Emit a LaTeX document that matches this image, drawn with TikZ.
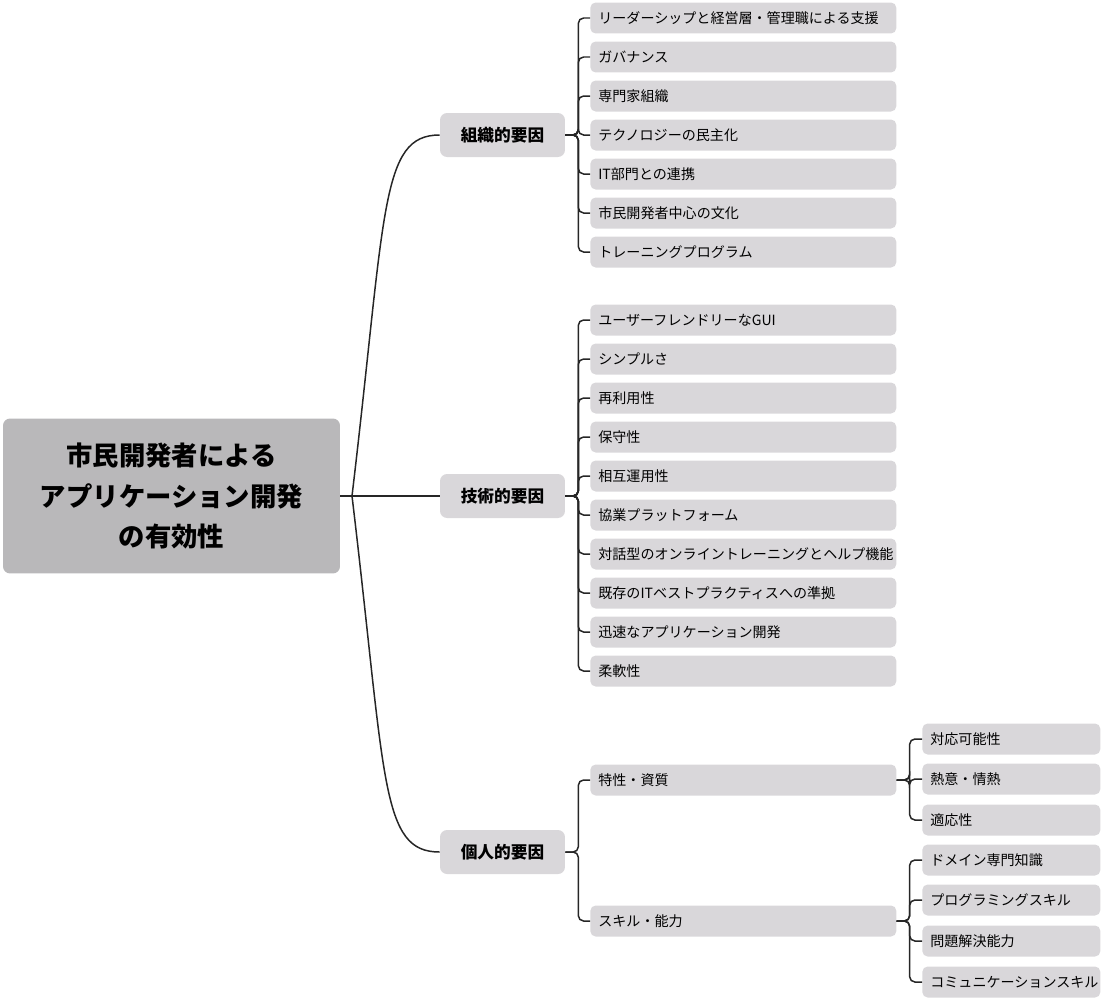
\documentclass[tikz,border=0pt]{standalone}
\usepackage{fontspec}
\setmainfont{Noto Sans CJK JP}
\usetikzlibrary{positioning}
\definecolor{rootgray}{HTML}{B9B8BA}
\definecolor{boxgray}{HTML}{D9D7DA}
\definecolor{linegray}{HTML}{262626}
\tikzset{
  rootbox/.style={fill=rootgray, rounded corners=4pt, minimum width=6.74cm, minimum height=3.1cm, align=center, font=\fontsize{15}{23}\selectfont\bfseries},
  catbox/.style={fill=boxgray, rounded corners=4pt, minimum width=2.5cm, minimum height=0.88cm, font=\fontsize{9.5}{11}\selectfont\bfseries},
  leafbox/.style={fill=boxgray, rounded corners=3pt, anchor=west, minimum height=0.62cm, inner xsep=0.16cm, text width=5.8cm, align=left, font=\fontsize{8}{9}\selectfont},
  subbox/.style={leafbox, text width=3.24cm},
  link/.style={draw=linegray, line width=0.85pt},
  bracket/.style={link, rounded corners=3pt}
}
\begin{document}
\begin{tikzpicture}[x=0.02cm, y=-0.02cm]
  \useasboundingbox (0,0) rectangle (1101,1001);

  \node[rootbox] (root) at (171.5,496) {市民開発者による\\アプリケーション開発\\の有効性};
  \node[catbox] (org) at (502.5,135) {組織的要因};
  \node[catbox] (tech) at (502.5,496) {技術的要因};
  \node[catbox] (pers) at (502.5,852) {個人的要因};

  % root to categories
  \coordinate (hub) at (352,496);
  \draw[link] (root.east) -- (hub);
  \draw[link] (hub) .. controls (386,210) and (380,135) .. (org.west);
  \draw[link] (hub) -- (tech.west);
  \draw[link] (hub) .. controls (386,780) and (380,852) .. (pers.west);

  % organizational factors
  \foreach \i/\y/\t in {1/18/リーダーシップと経営層・管理職による支援, 2/57/ガバナンス, 3/96/専門家組織,
      4/135/テクノロジーの民主化, 5/174/IT部門との連携, 6/213/市民開発者中心の文化, 7/252/トレーニングプログラム} {
    \node[leafbox] (org\i) at (590,\y) {\t};
    \draw[bracket] (org.east) -- ++(13,0) |- (org\i.west);
  }

  % technical factors
  \foreach \i/\y/\t in {1/320/ユーザーフレンドリーなGUI, 2/359/シンプルさ, 3/398/再利用性, 4/437/保守性,
      5/476/相互運用性, 6/515/協業プラットフォーム, 7/554/対話型のオンライントレーニングとヘルプ機能,
      8/593/既存のITベストプラクティスへの準拠, 9/632/迅速なアプリケーション開発, 10/671/柔軟性} {
    \node[leafbox] (tech\i) at (590,\y) {\t};
    \draw[bracket] (tech.east) -- ++(13,0) |- (tech\i.west);
  }

  % personal factors
  \node[leafbox] (trait) at (590,780) {特性・資質};
  \node[leafbox] (skill) at (590,921) {スキル・能力};
  \draw[bracket] (pers.east) -- ++(13,0) |- (trait.west);
  \draw[bracket] (pers.east) -- ++(13,0) |- (skill.west);

  \foreach \i/\y/\t in {1/739/対応可能性, 2/779/熱意・情熱, 3/820/適応性} {
    \node[subbox] (trait\i) at (922,\y) {\t};
    \draw[bracket] (trait.east) -- ++(13,0) |- (trait\i.west);
  }
  \foreach \i/\y/\t in {1/860/ドメイン専門知識, 2/900/プログラミングスキル, 3/941/問題解決能力, 4/982/コミュニケーションスキル} {
    \node[subbox] (skill\i) at (922,\y) {\t};
    \draw[bracket] (skill.east) -- ++(13,0) |- (skill\i.west);
  }
\end{tikzpicture}
\end{document}
